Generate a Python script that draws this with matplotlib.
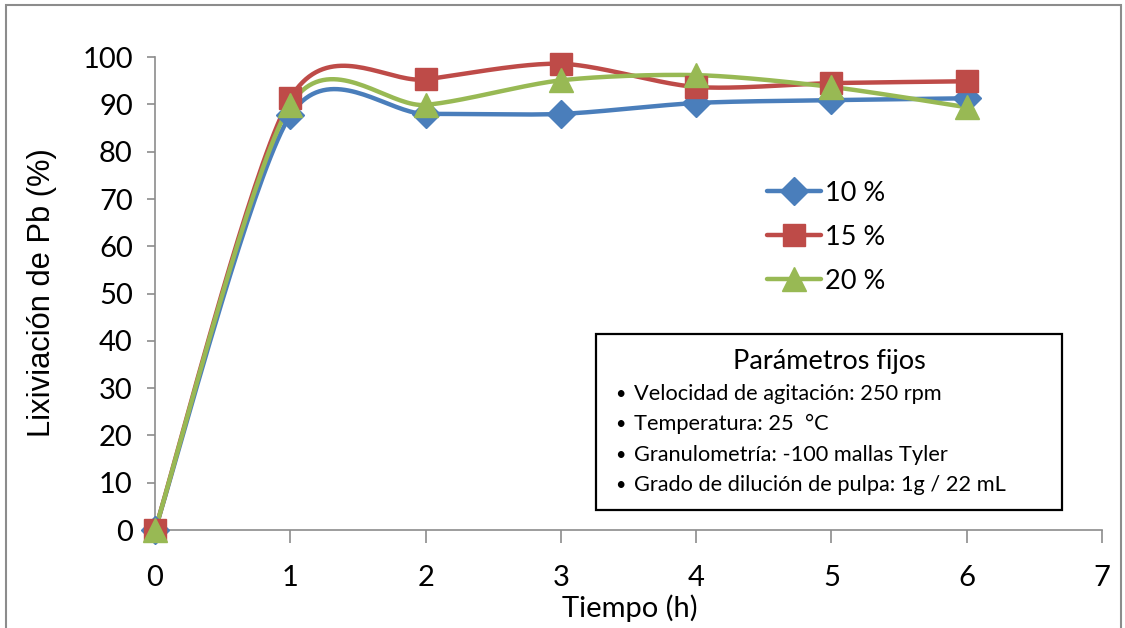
import matplotlib.pyplot as plt
import matplotlib.patches as mpatches
import numpy as np

TIME_H = [0, 1, 2, 3, 4, 5, 6]
SERIES_LABELS = ["10 %", "15 %", "20 %"]
LEACH_10 = [0.0, 87.7, 88.0, 88.0, 90.3, 90.9, 91.3]
LEACH_15 = [0.0, 91.3, 95.3, 98.6, 93.7, 94.5, 94.9]
LEACH_20 = [0.0, 89.9, 89.9, 95.1, 96.2, 93.7, 89.4]
X_TICKS = [0, 1, 2, 3, 4, 5, 6, 7]
Y_TICKS = [0, 10, 20, 30, 40, 50, 60, 70, 80, 90, 100]
BOX_TITLE = "Parámetros fijos"
BOX_ITEMS = [
    "Velocidad de agitación: 250 rpm",
    "Temperatura: 25  °C",
    "Granulometría: -100 mallas Tyler",
    "Grado de dilución de pulpa: 1g / 22 mL",
]

COLORS = ["#4A7EBB", "#BE4B48", "#98B954"]
MARKERS = ["D", "s", "^"]
MARKER_SIZES = [14, 16, 17]
GRAY = "#8C8C8C"
TEXT_FONT = ["Lato", "DejaVu Sans"]
ARIAL_FONT = ["Liberation Sans", "DejaVu Sans"]


def smooth_curve(x, y, n=40, k=0.14):
    # Excel-like smoothed line: cubic Bezier with Catmull-Rom style control points
    p = np.column_stack([x, y]).astype(float)
    pts = []
    for i in range(len(p) - 1):
        p_prev = p[i - 1] if i > 0 else p[i]
        p_next = p[i + 2] if i + 2 < len(p) else p[i + 1]
        c1 = p[i] + (p[i + 1] - p_prev) * k
        c2 = p[i + 1] - (p_next - p[i]) * k
        t = np.linspace(0, 1, n)[:, None]
        seg = ((1 - t) ** 3) * p[i] + 3 * ((1 - t) ** 2) * t * c1 \
            + 3 * (1 - t) * t ** 2 * c2 + t ** 3 * p[i + 1]
        pts.append(seg if i == 0 else seg[1:])
    pts = np.vstack(pts)
    return pts[:, 0], pts[:, 1]


def main():
    fig = plt.figure(figsize=(11.25, 6.28), dpi=100)
    ax = fig.add_axes([0.1378, 0.156, 0.9796 - 0.1378, 0.753])

    handles = []
    for vals, label, color, marker, ms in zip(
        [LEACH_10, LEACH_15, LEACH_20], SERIES_LABELS, COLORS, MARKERS, MARKER_SIZES
    ):
        sx, sy = smooth_curve(TIME_H, vals)
        ax.plot(sx, sy, color=color, lw=3.2, solid_capstyle="round",
                clip_on=False, zorder=3)
        ax.plot(TIME_H, vals, linestyle="none", marker=marker, ms=ms,
                color=color, mec=color, clip_on=False, zorder=4)
        h, = ax.plot([], [], color=color, lw=3.2, marker=marker, ms=ms,
                     mec=color, solid_capstyle="round")
        handles.append(h)

    ax.set_xlim(0, 7)
    ax.set_ylim(0, 100)
    ax.set_xticks(X_TICKS)
    ax.set_yticks(Y_TICKS)
    for side in ("top", "right"):
        ax.spines[side].set_visible(False)
    for side in ("left", "bottom"):
        ax.spines[side].set_color(GRAY)
        ax.spines[side].set_linewidth(1.2)
    ax.tick_params(axis="x", direction="out", length=9, width=1.2, color=GRAY,
                   pad=16)
    ax.tick_params(axis="y", direction="out", length=6, width=1.2, color=GRAY,
                   pad=10)
    for lab in ax.get_xticklabels():
        lab.set_family(TEXT_FONT)
        lab.set_fontsize(21)
    for lab in ax.get_yticklabels():
        lab.set_family(TEXT_FONT)
        lab.set_fontsize(21)

    ax.set_xlabel("Tiempo (h)", family=TEXT_FONT, fontsize=21)
    ax.xaxis.set_label_coords((630 - 155) / 947, -(608 - 530) / 473)
    ax.set_ylabel("Lixiviación de Pb (%)", family=ARIAL_FONT, fontsize=22.2)
    ax.yaxis.set_label_coords((42 - 155) / 947, (530 - 293) / 473)
    ax.yaxis.label.set_va("center")
    ax.xaxis.label.set_va("center")

    ax.legend(handles, SERIES_LABELS, loc="upper left",
              bbox_to_anchor=(0.62, 0.79), frameon=False,
              prop={"family": TEXT_FONT, "size": 19.5}, handlelength=2.0,
              handletextpad=0.15, labelspacing=0.7)

    # parameter box
    box = mpatches.Rectangle((596 / 1125, 1 - 510 / 628), (1062 - 596) / 1125,
                             (510 - 334) / 628, transform=fig.transFigure,
                             facecolor="white", edgecolor="black", lw=1.6,
                             zorder=5)
    fig.patches.append(box)
    fig.text(829 / 1125, 1 - 361 / 628, BOX_TITLE, ha="center", va="center",
             family=TEXT_FONT, fontsize=19.5, zorder=6)
    for i, item in enumerate(BOX_ITEMS):
        yy = 1 - (394 + i * 30.3) / 628
        fig.text(615 / 1125, yy, "•", ha="left", va="center",
                 family=TEXT_FONT, fontsize=13, zorder=6)
        fig.text(634 / 1125, yy, item, ha="left", va="center",
                 family=TEXT_FONT, fontsize=15.7, zorder=6)

    # outer chart border
    border = mpatches.Rectangle((6 / 1125, -0.01), (1121 - 6) / 1125,
                                1 - 5 / 628 + 0.01, transform=fig.transFigure,
                                facecolor="none", edgecolor=GRAY, lw=1.5)
    fig.patches.append(border)

    fig.savefig("out.png", dpi=100)


if __name__ == "__main__":
    main()
